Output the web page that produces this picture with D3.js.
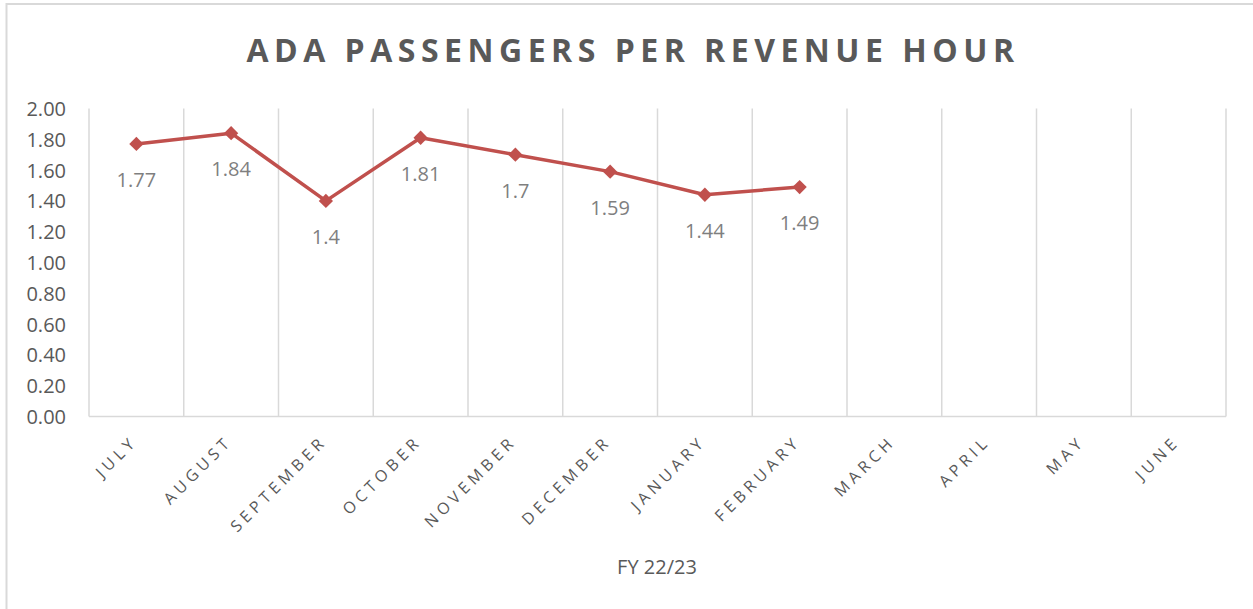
<!DOCTYPE html>
<html><head><meta charset="utf-8">
<script src="https://cdn.jsdelivr.net/npm/d3@7"></script>
<style>body{margin:0;background:#fff;} svg{display:block;}</style>
</head><body>
<svg id="c" width="1253" height="609"></svg>
<script>
const categories = ["JULY","AUGUST","SEPTEMBER","OCTOBER","NOVEMBER","DECEMBER","JANUARY","FEBRUARY","MARCH","APRIL","MAY","JUNE"];
const values = [1.77, 1.84, 1.4, 1.81, 1.7, 1.59, 1.44, 1.49];
const valueLabels = ["1.77","1.84","1.4","1.81","1.7","1.59","1.44","1.49"];
const yTicks = [0,0.2,0.4,0.6,0.8,1.0,1.2,1.4,1.6,1.8,2.0];
const title = "ADA PASSENGERS PER REVENUE HOUR";
const xTitle = "FY 22/23";

const svg = d3.select("#c");
const L = 89, R = 1226, T = 108.5, B = 416.5;
const font = "'Open Sans', sans-serif";

svg.append("rect").attr("x",6.5).attr("y",4).attr("width",1260).attr("height",620)
  .attr("fill","#fff").attr("stroke","#d9d9d9").attr("stroke-width",2);

const x = d3.scaleBand().domain(categories).range([L,R]).padding(0);
const y = d3.scaleLinear().domain([0,2]).range([B,T]);

const bounds = categories.map(c => x(c)).concat([R]);
svg.append("g").selectAll("line").data(bounds).join("line")
  .attr("x1",d=>d).attr("x2",d=>d).attr("y1",T).attr("y2",B)
  .attr("stroke","#d9d9d9").attr("stroke-width",1.5);
svg.append("line").attr("x1",L).attr("x2",R).attr("y1",B).attr("y2",B)
  .attr("stroke","#d9d9d9").attr("stroke-width",1.5);

const yAxis = d3.axisLeft(y).tickValues(yTicks).tickFormat(d3.format(".2f")).tickSize(0).tickPadding(0);
const gy = svg.append("g").attr("transform",`translate(66,0)`).call(yAxis);
gy.select(".domain").remove();
gy.selectAll("text").attr("font-family",font).attr("font-size",20).attr("fill","#595959").attr("dy","0.35em");

const xAxis = d3.axisBottom(x).tickSize(0).tickPadding(0);
const gx = svg.append("g").attr("transform",`translate(0,${B})`).call(xAxis);
gx.select(".domain").remove();
gx.selectAll("text")
  .attr("font-family",font).attr("font-size",16).attr("fill","#595959")
  .attr("letter-spacing","4.4px")
  .attr("text-anchor","end").attr("dy",0).attr("y",0)
  .attr("transform","translate(2,26) rotate(-45)");

const line = d3.line().x((d,i)=>x(categories[i])+x.bandwidth()/2).y(d=>y(d));
svg.append("path").datum(values).attr("d",line).attr("fill","none")
  .attr("stroke","#c0504d").attr("stroke-width",3.5).attr("stroke-linejoin","round");

svg.append("g").selectAll("path").data(values).join("path")
  .attr("d", d3.symbol().type(d3.symbolDiamond2).size(130))
  .attr("transform",(d,i)=>`translate(${x(categories[i])+x.bandwidth()/2},${y(d)})`)
  .attr("fill","#c0504d");

svg.append("g").selectAll("text").data(values).join("text")
  .attr("x",(d,i)=>x(categories[i])+x.bandwidth()/2)
  .attr("y",d=>y(d)+36).attr("dy","0.35em")
  .attr("text-anchor","middle").attr("font-family",font).attr("font-size",20).attr("fill","#7f7f7f")
  .text((d,i)=>valueLabels[i]);

svg.append("text").attr("x",633).attr("y",62).attr("text-anchor","middle")
  .attr("font-family",font).attr("font-weight","bold").attr("font-size",32)
  .attr("letter-spacing","5.5px").attr("fill","#595959").text(title);

svg.append("text").attr("x",657).attr("y",567).attr("dy","0.35em").attr("text-anchor","middle")
  .attr("font-family",font).attr("font-size",20).attr("fill","#595959").text(xTitle);
</script>
</body></html>
